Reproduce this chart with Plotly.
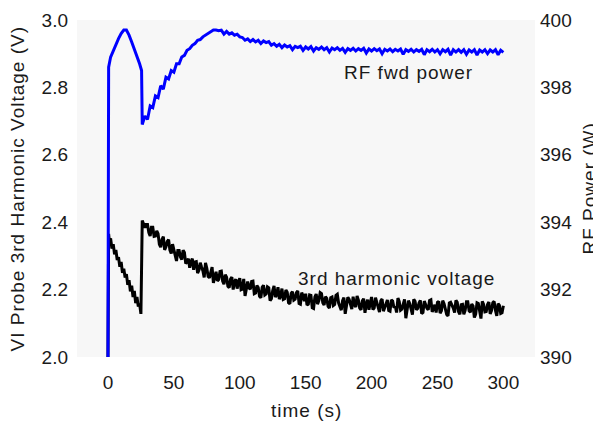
import plotly.graph_objects as go

# ---- 3rd harmonic voltage (V), sampled every second ----
t_volt = [0, 0.5] + list(range(1, 301))

volt_start = [2.00, 2.365, 2.345, 2.352, 2.322, 2.335, 2.305, 2.318, 2.288, 2.296,
              2.268, 2.282, 2.250, 2.262, 2.236, 2.246, 2.214, 2.228, 2.195, 2.212,
              2.178, 2.196, 2.160, 2.178, 2.150, 2.158, 2.128]  # t = 0 .. 25 s

# after the step at ~25 s: even seconds 26, 28, ... 300
volt_even = [
    2.405, 2.384, 2.393, 2.359, 2.385, 2.359, 2.366, 2.326, 2.357, 2.327,
    2.348, 2.307, 2.319, 2.285, 2.316, 2.289, 2.310, 2.282, 2.265, 2.292,
    2.282, 2.249, 2.280, 2.256, 2.279, 2.239, 2.254, 2.220, 2.253, 2.230,
    2.255, 2.216, 2.237, 2.206, 2.237, 2.223, 2.203, 2.234, 2.202, 2.181,
    2.224, 2.201, 2.225, 2.190, 2.206, 2.176, 2.213, 2.187, 2.205, 2.173,
    2.211, 2.185, 2.172, 2.203, 2.173, 2.192, 2.158, 2.194, 2.172, 2.196,
    2.157, 2.182, 2.188, 2.157, 2.183, 2.144, 2.187, 2.167, 2.188, 2.154,
    2.174, 2.145, 2.178, 2.156, 2.186, 2.148, 2.167, 2.128, 2.177, 2.156,
    2.179, 2.148, 2.169, 2.140, 2.173, 2.157, 2.140, 2.178, 2.146, 2.163,
    2.133, 2.172, 2.148, 2.169, 2.136, 2.166, 2.150, 2.175, 2.139, 2.157,
    2.115, 2.167, 2.143, 2.171, 2.140, 2.160, 2.129, 2.166, 2.145, 2.168,
    2.134, 2.155, 2.162, 2.130, 2.167, 2.140, 2.122, 2.162, 2.145, 2.168,
    2.134, 2.155, 2.127, 2.164, 2.137, 2.157, 2.117, 2.161, 2.141, 2.165,
    2.134, 2.156, 2.128, 2.161, 2.138, 2.158, 2.129, 2.152,
]
# odd seconds 27, 29, ... 299
volt_odd = [
    2.394, 2.393, 2.369, 2.385, 2.358, 2.374, 2.334, 2.349, 2.318, 2.343,
    2.317, 2.335, 2.294, 2.316, 2.297, 2.317, 2.277, 2.292, 2.283, 2.259,
    2.283, 2.257, 2.267, 2.236, 2.263, 2.235, 2.267, 2.242, 2.226, 2.254,
    2.225, 2.244, 2.210, 2.231, 2.200, 2.231, 2.222, 2.200, 2.232, 2.202,
    2.205, 2.224, 2.188, 2.212, 2.180, 2.207, 2.184, 2.208, 2.167, 2.197,
    2.178, 2.207, 2.180, 2.171, 2.199, 2.161, 2.189, 2.169, 2.191, 2.159,
    2.191, 2.166, 2.154, 2.184, 2.146, 2.178, 2.157, 2.191, 2.161, 2.179,
    2.150, 2.176, 2.153, 2.183, 2.160, 2.139, 2.176, 2.154, 2.171, 2.142,
    2.155, 2.181, 2.145, 2.167, 2.131, 2.170, 2.162, 2.141, 2.176, 2.147,
    2.167, 2.136, 2.162, 2.138, 2.169, 2.146, 2.132, 2.164, 2.142, 2.171,
    2.138, 2.158, 2.126, 2.165, 2.144, 2.168, 2.132, 2.154, 2.140, 2.170,
    2.143, 2.132, 2.165, 2.137, 2.158, 2.126, 2.160, 2.155, 2.132, 2.162,
    2.127, 2.156, 2.138, 2.164, 2.133, 2.151, 2.127, 2.159, 2.114, 2.156,
    2.135, 2.163, 2.138, 2.165, 2.122, 2.153, 2.131,
]
volt_after = []
for i in range(len(volt_even)):
    volt_after.append(volt_even[i])
    if i < len(volt_odd):
        volt_after.append(volt_odd[i])
voltage = volt_start + volt_after

# ---- RF forward power (W) ----
t_pow = [0, 0.5, 2, 4, 6, 8, 10, 12, 14, 16, 18, 20, 22, 24, 25.5] + list(range(26, 301, 2))
pow_start = [390.0, 398.6, 398.9, 399.1, 399.3, 399.45, 399.6, 399.7, 399.7, 399.55, 399.35, 399.15, 398.95, 398.7, 398.5]
pow_after = [
    396.90, 397.15, 397.05, 397.45, 397.40, 397.75, 397.70, 398.05, 397.95, 398.30,
    398.25, 398.50, 398.45, 398.70, 398.70, 398.90, 398.95, 399.10, 399.15, 399.25,
    399.30, 399.40, 399.42, 399.50, 399.55, 399.62, 399.65, 399.70, 399.70, 399.68,
    399.70, 399.58, 399.66, 399.58, 399.62, 399.55, 399.58, 399.50, 399.48, 399.40,
    399.44, 399.36, 399.42, 399.35, 399.40, 399.30, 399.38, 399.33, 399.36, 399.25,
    399.30, 399.22, 399.28, 399.18, 399.26, 399.20, 399.24, 399.12, 399.22, 399.18,
    399.22, 399.10, 399.20, 399.14, 399.21, 399.08, 399.18, 399.13, 399.20, 399.12,
    399.18, 399.05, 399.17, 399.12, 399.18, 399.10, 399.16, 399.04, 399.15, 399.10,
    399.16, 399.08, 399.15, 399.10, 399.16, 399.02, 399.14, 399.08, 399.15, 399.09,
    399.14, 399.00, 399.13, 399.08, 399.14, 399.06, 399.13, 399.08, 399.14, 398.98,
    399.12, 399.07, 399.13, 399.05, 399.12, 399.07, 399.13, 398.97, 399.12, 399.06,
    399.13, 399.05, 399.12, 399.00, 399.12, 399.06, 399.13, 398.96, 399.12, 399.05,
    399.12, 399.04, 399.12, 398.98, 399.11, 399.05, 399.12, 398.96, 399.11, 399.05,
    399.12, 399.00, 399.11, 399.05, 399.12, 398.97, 399.10, 399.04,
]
power = pow_start + pow_after

font = dict(family="Liberation Sans, Arial, sans-serif", size=19, color="#1a1a1a")


def spaced(s):
    return '<span style="letter-spacing:1px">' + s + '</span>'


fig = go.Figure()
fig.add_trace(go.Scatter(x=t_volt, y=voltage, mode="lines",
                         line=dict(color="black", width=3), yaxis="y"))
fig.add_trace(go.Scatter(x=t_pow, y=power, mode="lines",
                         line=dict(color="#0000ff", width=3), yaxis="y2"))

# in-plot labels
fig.add_annotation(x=228, y=2.843, xref="x", yref="y", text=spaced("RF fwd power"),
                   showarrow=False, font=font)
fig.add_annotation(x=219, y=2.232, xref="x", yref="y", text=spaced("3rd harmonic voltage"),
                   showarrow=False, font=font)

# axis titles as annotations so the plot area stays put
fig.add_annotation(x=0, y=0.5, xref="paper", yref="paper", xshift=-60,
                   xanchor="center", yanchor="middle",
                   text=spaced("VI Probe 3rd Harmonic Voltage (V)"), textangle=-90,
                   showarrow=False, font=font)
fig.add_annotation(x=1, y=0.5, xref="paper", yref="paper", xshift=54,
                   xanchor="center", yanchor="middle",
                   text=spaced("RF Power (W)"), textangle=-90, showarrow=False, font=font)
fig.add_annotation(x=0.5, y=0, xref="paper", yref="paper", yshift=-53,
                   xanchor="center", yanchor="middle",
                   text=spaced("time (s)"), showarrow=False, font=font)

# page body adds 8px offset, so margins are shifted accordingly
fig.update_layout(
    width=601, height=426,
    margin=dict(l=69, r=74, t=12, b=77, autoexpand=False),
    paper_bgcolor="white",
    plot_bgcolor="#f7f7f7",
    showlegend=False,
    font=font,
    xaxis=dict(range=[-23.5, 324], tickvals=[0, 50, 100, 150, 200, 250, 300],
               showgrid=False, zeroline=False, showline=False, ticks="",
               ticklabelstandoff=12, automargin=False),
    yaxis=dict(range=[2.0, 3.0], tickvals=[2.0, 2.2, 2.4, 2.6, 2.8, 3.0],
               tickformat=".1f", showgrid=False, zeroline=False, showline=False,
               ticks="", ticklabelstandoff=8, automargin=False),
    yaxis2=dict(range=[390, 400], tickvals=[390, 392, 394, 396, 398, 400],
                overlaying="y", side="right", showgrid=False, zeroline=False,
                showline=False, ticks="", ticklabelstandoff=4, automargin=False),
)

fig.write_html("out.html")
